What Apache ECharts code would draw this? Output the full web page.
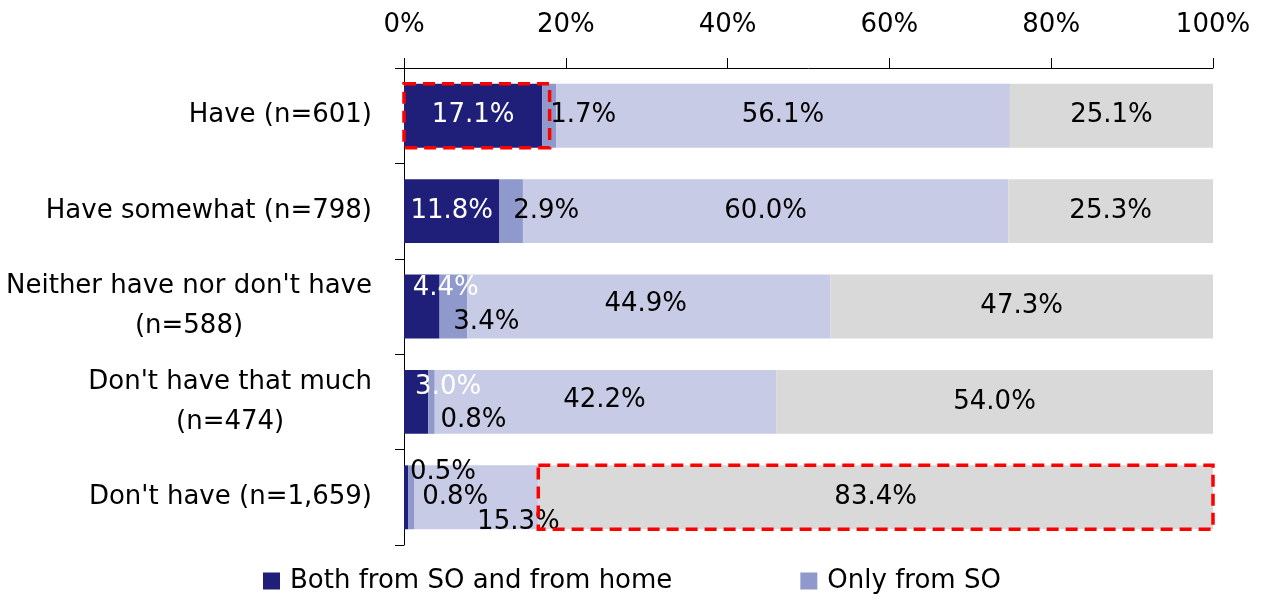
<!DOCTYPE html>
<html>
<head>
<meta charset="utf-8">
<script src="https://cdn.jsdelivr.net/npm/echarts@6/dist/echarts.min.js"></script>
<style>
  html, body { margin: 0; padding: 0; background: #fff; }
  #chart { width: 1262px; height: 601px; }
</style>
</head>
<body>
<div id="chart"></div>
<script>
// Survey groups (top to bottom)
const categories = [
  'Have (n=601)',
  'Have somewhat (n=798)',
  "Neither have nor don't have\n(n=588)",
  "Don't have that much\n(n=474)",
  "Don't have (n=1,659)"
];

// Shares in percent for each group
const bothFromSOAndHome = [17.1, 11.8, 4.4, 3.0, 0.5];
const onlyFromSO        = [1.7, 2.9, 3.4, 0.8, 0.8];
const onlyFromHome      = [56.1, 60.0, 44.9, 42.2, 15.3];
const neither           = [25.1, 25.3, 47.3, 54.0, 83.4];

const seriesNames = ['Both from SO and from home', 'Only from SO', 'Only from home', 'Neither'];
const legendNames = ['Both from SO and from home', 'Only from SO'];

// Value axis
const axisMin = 0;
const axisMax = 100;
const axisStep = 20;

// Dashed call-out frames: [from %, to %, group index]
const calloutFrames = [
  [0, 18.0, 0],
  [bothFromSOAndHome[4] + onlyFromSO[4] + onlyFromHome[4], 100, 4]
];

// Styling
const FONT = 'DejaVu Sans';
const FS = 26;
const colors = ['#1F1F7A', '#8F99CB', '#C7CBE5', '#D9D9D9'];
const W = '#FFFFFF', K = '#000000';
// Label colour per segment (white on the dark segment, black where the label sits outside it)
const labelColors = [
  [W, W, W, W, K],
  [K, K, K, K, K],
  [K, K, K, K, K],
  [K, K, K, K, K]
];

// Label nudges [dx, dy] so small segments' labels don't collide
const labelNudges = [
  [[0, 0], [0, 0], [24, -18], [32, -15], [37, -25]],
  [[34, 0], [35, 0], [33, 16], [42, 18], [44, 0]],
  [[0, 0], [0, 0], [-3, -2], [-1, -2], [42, 25]],
  [[0, 0], [0, 0], [0, 0], [0, 0], [0, 0]]
];

const seriesValues = [bothFromSOAndHome, onlyFromSO, onlyFromHome, neither];
const BAR_RATIO = 0.67;

const barSeries = seriesValues.map((vals, si) => ({
  name: seriesNames[si],
  type: 'bar',
  stack: 'total',
  barWidth: (BAR_RATIO * 100) + '%',
  itemStyle: { color: colors[si] },
  label: {
    show: true,
    position: 'inside',
    fontFamily: FONT,
    fontSize: FS,
    formatter: p => p.value.toFixed(1) + '%'
  },
  data: vals.map((v, i) => ({
    value: v,
    label: { offset: labelNudges[si][i], color: labelColors[si][i] }
  })),
  z: 2
}));

const frameSeries = {
  type: 'custom',
  name: 'frames',
  z: 5,
  clip: false,
  silent: true,
  encode: { x: [0, 1], y: 2 },
  data: calloutFrames,
  renderItem: function (params, api) {
    const a = api.coord([api.value(0), api.value(2)]);
    const b = api.coord([api.value(1), api.value(2)]);
    const h = api.size([0, 1])[1] * BAR_RATIO;
    return {
      type: 'rect',
      shape: { x: a[0], y: a[1] - h / 2, width: b[0] - a[0], height: h },
      style: { fill: 'none', stroke: '#FF0000', lineWidth: 3.5, lineDash: [12, 7] }
    };
  }
};

const chart = echarts.init(document.getElementById('chart'), null, { renderer: 'canvas' });
chart.setOption({
  animation: false,
  backgroundColor: '#ffffff',
  textStyle: { fontFamily: FONT },
  grid: { left: 404, right: 49, top: 68, bottom: 56, containLabel: false },
  legend: {
    data: legendNames,
    left: 258,
    bottom: 2,
    icon: 'rect',
    itemWidth: 17,
    itemHeight: 17,
    itemGap: 128,
    textStyle: { fontFamily: FONT, fontSize: FS, color: '#000', padding: [0, 0, 0, 5] }
  },
  xAxis: {
    type: 'value',
    position: 'top',
    min: axisMin,
    max: axisMax,
    interval: axisStep,
    axisLine: { show: true, lineStyle: { color: '#000', width: 1 } },
    axisTick: { show: true, length: 10, lineStyle: { color: '#000' } },
    splitLine: { show: false },
    axisLabel: {
      formatter: '{value}%',
      color: '#000',
      fontFamily: FONT,
      fontSize: FS,
      margin: 30
    }
  },
  yAxis: {
    type: 'category',
    inverse: true,
    data: categories,
    axisLine: { show: true, lineStyle: { color: '#000', width: 1 } },
    axisTick: { show: true, length: 9, lineStyle: { color: '#000' } },
    axisLabel: {
      color: '#000',
      fontFamily: FONT,
      fontSize: FS,
      margin: 32,
      lineHeight: 40,
      formatter: v => v.split('\n').map(l => '{c|' + l + '}').join('\n'),
      rich: {
        c: { align: 'center', fontFamily: FONT, fontSize: FS, color: '#000', lineHeight: 40 }
      }
    }
  },
  series: barSeries.concat([frameSeries])
});
</script>
</body>
</html>
